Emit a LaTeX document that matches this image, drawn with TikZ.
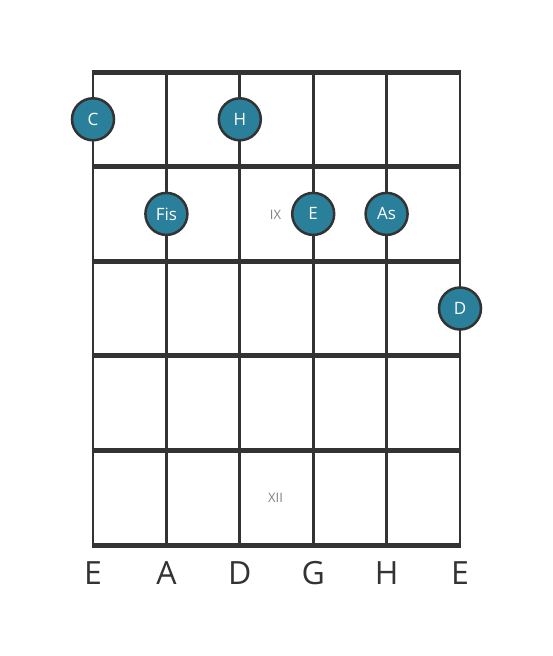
\documentclass[tikz,border=0pt]{standalone}
\usepackage{fontspec}
\setmainfont{Open Sans}
\definecolor{notefill}{HTML}{2A7F9A}
\definecolor{wire}{HTML}{333333}

\begin{document}
\begin{tikzpicture}[x=1pt,y=-1pt,
        note/.style={circle,draw=wire,line width=2.5pt,fill=notefill,minimum size=42pt,inner sep=0pt,text=white,font=\fontsize{17}{17}\selectfont},
        fretno/.style={text=gray,font=\fontsize{13}{13}\selectfont},
        stringname/.style={text=wire,font=\fontsize{32}{32}\selectfont}]
                \useasboundingbox (0,0) rectangle (553,656);
                \foreach \x in {93,166.4,239.8,313.2,386.6,460}
                    \draw[wire,line width=2.8pt] (\x,72) -- (\x,545);
                \foreach \y in {72,166.6,261.2,355.8,450.4,545}
                    \draw[wire,line width=5pt] (91.6,\y) -- (461.4,\y);
                \node[fretno] (nine) at (275.5,214.5) {IX};
                \node[fretno] (twelve) at (275.5,497.5) {XII};
                \node[note] (c) at (93,119.3) {C};
                \node[note] (h) at (239.8,119.3) {H};
                \node[note] (fis) at (166.4,213.9) {Fis};
                \node[note] (e) at (313.2,213.9) {E};
                \node[note] (as) at (386.6,213.9) {As};
                \node[note] (d) at (460,308.5) {D};
                \foreach \x/\s [count=\i] in {93/E,166.4/A,239.8/D,313.2/G,386.6/H,460/E}
                    \node[stringname] (s\i) at (\x,573) {\s};
            \end{tikzpicture}
\end{document}
